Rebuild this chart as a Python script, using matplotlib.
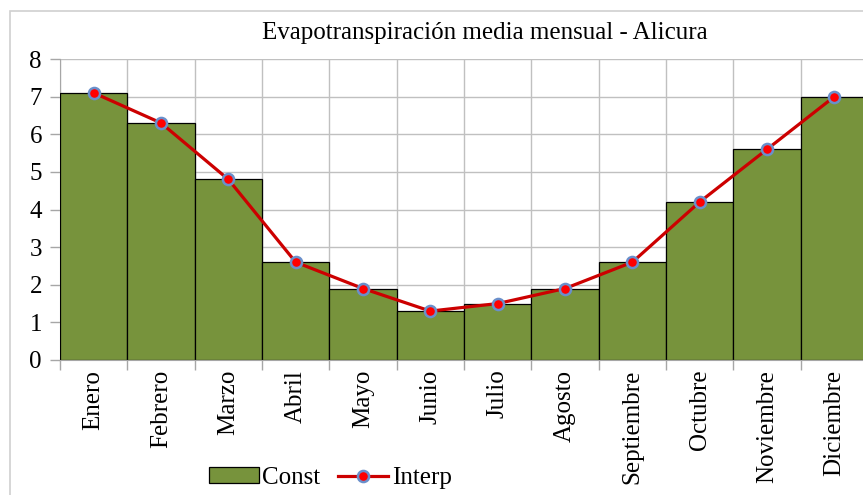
import matplotlib
matplotlib.use("Agg")
import matplotlib.pyplot as plt
from matplotlib.patches import Rectangle
from matplotlib.lines import Line2D
from matplotlib.ticker import FixedLocator, NullFormatter

months = ["Enero", "Febrero", "Marzo", "Abril", "Mayo", "Junio", "Julio",
          "Agosto", "Septiembre", "Octubre", "Noviembre", "Diciembre"]
const_vals = [7.1, 6.3, 4.8, 2.6, 1.9, 1.3, 1.5, 1.9, 2.6, 4.2, 5.6, 7.0]
interp_vals = [7.1, 6.3, 4.8, 2.6, 1.9, 1.3, 1.5, 1.9, 2.6, 4.2, 5.6, 7.0]
yticks = [0, 1, 2, 3, 4, 5, 6, 7, 8]
title = "Evapotranspiración media mensual - Alicura"

plt.rcParams['font.family'] = ['Liberation Serif', 'DejaVu Serif']
FS = 18

W, H = 863, 495
fig = plt.figure(figsize=(W / 100, H / 100), dpi=100)

# outer chart frame
fig.patches.append(Rectangle((9.5 / W, -0.1), 1.2, (H - 10.5) / H + 0.1,
                             transform=fig.transFigure, fill=False,
                             edgecolor="#d0d0d0", linewidth=1.2, zorder=0))

left, right, top, bottom = 60, 868, 59, 360
ax = fig.add_axes([left / W, (H - bottom) / H, (right - left) / W, (bottom - top) / H])

x = list(range(len(months)))
ax.bar(x, const_vals, width=1.0, color="#77933c", edgecolor="black",
       linewidth=0.9, zorder=2, label="Const")
ax.plot(x, interp_vals, color="#cc0000", linewidth=2.3, marker="o",
        markersize=8, markerfacecolor="#ff0000", markeredgecolor="#6a8fcb",
        markeredgewidth=1.8, zorder=3, label="Interp")

ax.set_xlim(-0.5, 11.5)
ax.set_ylim(0, 8)
ax.set_yticks(yticks)
ax.set_yticklabels([str(v) for v in yticks], fontsize=FS)

ax.set_xticks(x)
ax.set_xticklabels(months, rotation=90, fontsize=FS, va="top")
ax.tick_params(axis="x", which="major", length=0, pad=7)
bounds = [i - 0.5 for i in range(len(months) + 1)]
ax.xaxis.set_minor_locator(FixedLocator(bounds))
ax.xaxis.set_minor_formatter(NullFormatter())
ax.tick_params(axis="x", which="minor", length=7, color="#a6a6a6", width=1)
ax.tick_params(axis="y", length=7, color="#a6a6a6", width=1, pad=6)

ax.grid(True, which="minor", axis="x", color="#c0c0c0", linewidth=1, zorder=0)
ax.grid(True, which="major", axis="y", color="#c0c0c0", linewidth=1, zorder=0)
ax.set_axisbelow(True)

for s in ["top", "right"]:
    ax.spines[s].set_visible(False)
ax.spines["left"].set_color("#a6a6a6")
ax.spines["bottom"].set_color("#a6a6a6")
ax.spines["left"].set_zorder(1)

fig.text(485 / W, 1 - 33 / H, title, ha="center", va="center", fontsize=FS)

handles = [Rectangle((0, 0), 1, 1, facecolor="#77933c", edgecolor="black", linewidth=0.9),
           Line2D([], [], color="#cc0000", linewidth=2.3, marker="o", markersize=8,
                  markerfacecolor="#ff0000", markeredgecolor="#6a8fcb", markeredgewidth=1.8)]
fig.legend(handles, ["Const", "Interp"], loc="center", bbox_to_anchor=(330 / W, 1 - 478 / H),
           ncol=2, frameon=False, fontsize=FS, handlelength=2.0, handleheight=0.6,
           handletextpad=0.15, columnspacing=0.7, borderpad=0)

fig.savefig("out.png", dpi=100)
